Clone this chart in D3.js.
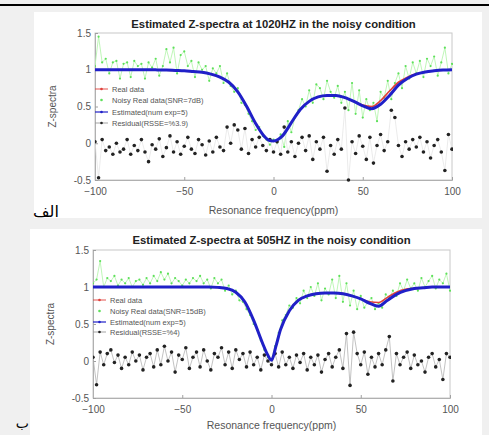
<!DOCTYPE html>
<html><head><meta charset="utf-8">
<script src="https://cdn.jsdelivr.net/npm/d3@7"></script>
<style>
html,body{margin:0;padding:0;background:#f0f0f0;overflow:hidden;}
svg{display:block;}
</style></head><body>
<svg id="c" width="489" height="435"></svg>
<script>
// ---------- DATA ----------
const freqGrid = [
-100,-98,-96,-94,-92,-90,-88,-86,-84,-82,
-80,-78,-76,-74,-72,-70,-68,-66,-64,-62,
-60,-58,-56,-54,-52,-50,-48,-46,-44,-42,
-40,-38,-36,-34,-32,-30,-28,-26,-24,-22,
-20,-18,-16,-14,-12,-10,-8,-6,-4,-2,
0,2,4,6,8,10,12,14,16,18,
20,22,24,26,28,30,32,34,36,38,
40,42,44,46,48,50,52,54,56,58,
60,62,64,66,68,70,72,74,76,78,
80,82,84,86,88,90,92,94,96,98,
100];
const curveFreq = [-100,-95,-90,-85,-80,-75,-70,-65,-60,-55,-50,-45,-40,-35,-30,-25,-20,-15,-10,-5,
  -2.5,0,2.5,
  5,10,15,20,25,30,35,40,45,50,55,60,65,70,75,80,85,90,95,100];

// panel A (1020 Hz)
const realA = [1.0,1.0,1.0,1.0,1.0,1.0,1.0,0.998,0.995,0.99,0.985,0.975,0.965,0.94,0.9,0.83,0.7,0.5,0.27,0.09,
  0.04,0.03,0.05,
  0.1,0.28,0.46,0.57,0.63,0.65,0.65,0.62,0.57,0.52,0.5,0.58,0.71,0.83,0.9,0.945,0.97,0.985,0.995,1.0];
const estA = [1.0,1.0,1.0,1.0,1.0,1.0,1.0,0.998,0.995,0.99,0.985,0.975,0.965,0.94,0.9,0.83,0.7,0.5,0.27,0.09,
  0.04,0.03,0.05,
  0.1,0.28,0.46,0.57,0.63,0.65,0.65,0.62,0.57,0.51,0.47,0.53,0.65,0.79,0.88,0.94,0.97,0.985,0.995,1.0];
const noisyA = [
1.05,1.45,1.10,1.15,0.95,1.10,1.12,0.88,1.08,1.10,
0.90,1.12,1.05,1.08,0.88,1.10,1.03,1.15,0.92,1.05,
1.28,1.10,1.30,0.95,1.20,1.25,1.05,1.12,0.90,1.10,
1.00,1.05,0.85,1.02,0.95,1.05,0.82,0.95,0.78,0.70,
0.75,0.55,0.52,0.40,0.30,0.18,0.22,0.10,0.05,-0.02,
0.05,0.00,0.12,-0.05,0.30,0.15,0.35,0.45,0.60,0.50,
0.72,0.55,0.80,0.75,0.60,0.85,0.70,0.62,0.78,0.55,
0.70,0.45,0.82,0.40,0.72,0.35,0.60,0.45,0.55,0.30,
0.70,0.62,0.85,0.60,0.82,0.95,0.75,1.05,0.88,1.10,
0.95,1.12,0.90,1.15,1.05,1.18,0.92,1.10,1.30,0.95,
1.08];
const residA = [
0.02,-0.47,0.05,-0.10,-0.05,-0.15,0.00,-0.12,-0.08,0.05,
-0.15,-0.03,-0.10,0.05,-0.12,-0.25,-0.02,-0.08,0.06,-0.18,
-0.06,0.10,-0.12,0.02,-0.15,-0.04,0.08,-0.08,-0.14,0.05,
-0.02,-0.16,0.03,-0.12,0.08,-0.05,-0.10,0.22,0.00,0.25,
0.18,-0.08,0.20,-0.14,0.05,-0.05,0.08,-0.03,-0.10,0.05,
-0.12,0.02,-0.15,0.22,-0.12,0.02,-0.18,0.00,0.08,-0.10,
0.10,-0.22,0.02,-0.08,0.08,-0.38,-0.03,-0.15,0.05,-0.08,
0.48,-0.50,0.02,-0.14,0.10,-0.04,-0.22,0.08,-0.27,-0.03,
0.12,-0.10,0.02,0.45,0.35,-0.03,-0.18,0.02,-0.08,0.05,
-0.05,0.08,-0.12,0.02,-0.20,-0.03,0.05,-0.12,-0.37,0.12,
-0.08];

// panel B (505 Hz)
const realB = [1,1,1,1,1,1,1,1,1,1,1,1,1,1,0.995,0.98,0.93,0.8,0.55,0.24,
  0.1,0.01,0.2,
  0.42,0.68,0.82,0.88,0.91,0.92,0.92,0.91,0.88,0.84,0.8,0.79,0.86,0.93,0.97,0.98,0.99,1.0,1.0,1.0];
const estB = [1,1,1,1,1,1,1,1,1,1,1,1,1,1,0.995,0.98,0.93,0.8,0.55,0.24,
  0.1,0.01,0.2,
  0.42,0.68,0.82,0.88,0.91,0.92,0.92,0.91,0.88,0.84,0.78,0.74,0.82,0.9,0.95,0.98,0.99,1.0,1.0,1.0];
const noisyB = [
1.05,1.10,1.35,1.00,1.12,1.08,1.15,1.02,1.10,1.05,
1.12,1.00,1.08,1.10,1.03,1.12,1.05,1.15,1.08,1.20,
1.10,1.18,1.05,1.12,1.08,1.02,1.10,1.05,1.12,1.08,
1.15,1.05,1.10,0.98,1.12,1.05,1.10,0.95,1.02,0.90,
0.95,0.82,0.80,0.70,0.62,0.50,0.42,0.28,0.15,0.05,
0.02,0.20,0.38,0.55,0.62,0.75,0.72,0.85,0.78,0.95,
0.85,1.00,0.88,1.05,0.82,0.98,0.90,1.10,0.85,1.15,
0.80,1.05,0.75,0.95,0.70,0.88,0.72,0.80,0.85,0.70,
0.78,0.72,0.90,0.85,0.95,0.88,1.05,0.95,1.10,0.98,
1.05,0.95,1.12,1.00,1.08,1.15,0.98,1.10,1.05,1.18,
0.95];
const residB = [
0.05,-0.32,0.12,-0.05,0.10,0.15,-0.02,0.08,-0.10,0.05,
-0.05,0.12,0.00,0.08,-0.12,0.05,0.10,-0.08,0.15,-0.05,
0.20,0.00,0.12,-0.15,0.08,0.02,0.18,-0.10,0.05,0.12,
-0.08,0.15,0.00,-0.12,0.10,0.05,0.18,-0.05,0.12,-0.10,
0.15,0.02,0.10,-0.08,0.12,-0.05,0.05,-0.12,0.08,0.00,
-0.05,0.10,-0.08,0.12,-0.05,0.05,-0.10,0.08,-0.02,0.10,
-0.12,0.05,-0.05,0.08,-0.15,0.02,0.10,-0.08,0.05,0.15,
-0.10,0.37,-0.33,0.39,0.10,-0.05,0.12,-0.18,0.05,-0.08,
0.10,-0.05,0.15,0.33,-0.27,0.10,-0.05,0.05,0.12,-0.10,
0.08,-0.05,0.00,-0.15,0.05,0.10,-0.08,0.02,-0.25,0.10,
0.05];

const xTicks = [-100,-50,0,50,100];
const yTicks = [-0.5,0,0.5,1,1.5];
const yTickLabels = ["-0.5","0","0.5","1","1.5"];
const titles = ["Estimated Z-spectra at 1020HZ in the noisy condition",
                "Estimated Z-spectra at 505HZ in the noisy condition"];
const legendA = ["Real data","Noisy Real data(SNR=7dB)","Estimated(num exp=5)","Residual(RSSE=%3.9)"];
const legendB = ["Real data","Noisy Real data(SNR=15dB)","Estimated(num exp=5)","Residual(RSSE=%4)"];
const panelLetters = ["الف","ب"];
const xLabel = "Resonance frequency(ppm)";
const yLabel = "Z-spectra";

// ---------- DRAW ----------
const svg = d3.select("#c");
const FONT = "Liberation Sans, Arial, sans-serif";

svg.append("rect").attr("x",0).attr("y",4).attr("width",489).attr("height",2).attr("fill","#000");
svg.append("rect").attr("x",34).attr("y",12).attr("width",448).attr("height",206).attr("fill","#fff");
svg.append("rect").attr("x",30).attr("y",229).attr("width",452).attr("height",210).attr("fill","#fff");

svg.append("text").attr("x",33).attr("y",217).attr("text-anchor","end")
  .attr("font-family","DejaVu Sans").attr("font-size",16).attr("fill","#000").attr("direction","rtl")
  .text(panelLetters[0]);
svg.append("text").attr("x",29).attr("y",428).attr("text-anchor","end")
  .attr("font-family","DejaVu Sans").attr("font-size",14).attr("fill","#000")
  .text(panelLetters[1]);

const panels = [
  {x0:95,x1:452,yT:33,yB:180,title:titles[0],titleY:28,xlY:214,ylX:56,leg:legendA,legY:[89,100,112,123],legX:95,
   real:realA,est:estA,noisy:noisyA,resid:residA,residLine:"#e2e2e2"},
  {x0:93,x1:450,yT:250,yB:398,title:titles[1],titleY:244,xlY:429,ylX:54,leg:legendB,legY:[300,311,322,332],legX:93,
   real:realB,est:estB,noisy:noisyB,resid:residB,residLine:"#a8a8a8"}
];

panels.forEach(p => {
  const x = d3.scaleLinear().domain([-100,100]).range([p.x0,p.x1]);
  const y = d3.scaleLinear().domain([-0.5,1.5]).range([p.yB,p.yT]);
  const g = svg.append("g");

  g.append("rect").attr("x",p.x0).attr("y",p.yT).attr("width",p.x1-p.x0).attr("height",p.yB-p.yT)
    .attr("fill","none").attr("stroke","#c8c8c8").attr("stroke-width",1);

  const xa = g.append("g").attr("transform",`translate(0,${p.yB})`)
    .call(d3.axisBottom(x).tickValues(xTicks).tickSize(-3).tickPadding(8).tickFormat(d3.format("d")));
  const ya = g.append("g").attr("transform",`translate(${p.x0},0)`)
    .call(d3.axisLeft(y).tickValues(yTicks).tickSize(-3).tickPadding(4).tickFormat((d,i)=>yTickLabels[i]));
  [xa,ya].forEach(a=>{
    a.select(".domain").attr("stroke","#b0b0b0");
    a.selectAll(".tick line").attr("stroke","#a0a0a0");
    a.selectAll(".tick text").attr("font-family",FONT).attr("font-size",10).attr("fill","#555");
  });
  ya.selectAll(".tick text").attr("x",-4);

  const clip = "clip"+p.yT;
  svg.append("clipPath").attr("id",clip).append("rect")
    .attr("x",p.x0).attr("y",p.yT-4).attr("width",p.x1-p.x0+1).attr("height",p.yB-p.yT+8);
  const plot = g.append("g").attr("clip-path",`url(#${clip})`);

  const pts = (arr, xs) => arr.map((v,i)=>[xs[i],v]);
  const lineStraight = d3.line().x(d=>x(d[0])).y(d=>y(d[1]));
  const lineSmooth = d3.line().x(d=>x(d[0])).y(d=>y(d[1])).curve(d3.curveMonotoneX);

  const nz = pts(p.noisy, freqGrid);
  plot.append("path").attr("d",lineStraight(nz)).attr("fill","none")
    .attr("stroke","#b8f5b0").attr("stroke-width",0.9);
  plot.selectAll(".nz").data(nz).enter().append("circle")
    .attr("cx",d=>x(d[0])).attr("cy",d=>y(d[1])).attr("r",1.1).attr("fill","#5ee05a");

  const rs = pts(p.resid, freqGrid);
  plot.append("path").attr("d",lineStraight(rs)).attr("fill","none")
    .attr("stroke",p.residLine).attr("stroke-width",0.7);
  plot.selectAll(".rs").data(rs).enter().append("circle")
    .attr("cx",d=>x(d[0])).attr("cy",d=>y(d[1])).attr("r",1.8).attr("fill","#222");

  plot.append("path").attr("d",lineSmooth(pts(p.real,curveFreq))).attr("fill","none")
    .attr("stroke","#e0403a").attr("stroke-width",1.6);
  plot.append("path").attr("d",lineSmooth(pts(p.est,curveFreq))).attr("fill","none")
    .attr("stroke","#2020c8").attr("stroke-width",3);

  g.append("text").attr("x",(p.x0+p.x1)/2).attr("y",p.titleY).attr("text-anchor","middle")
    .attr("font-family",FONT).attr("font-weight","bold").attr("font-size",11.3).attr("fill","#222")
    .text(p.title);
  g.append("text").attr("x",(p.x0+p.x1)/2).attr("y",p.xlY).attr("text-anchor","middle")
    .attr("font-family",FONT).attr("font-size",10.5).attr("fill","#555").text(xLabel);
  g.append("text").attr("transform",`translate(${p.ylX},${(p.yT+p.yB)/2}) rotate(-90)`)
    .attr("text-anchor","middle").attr("font-family",FONT).attr("font-size",10).attr("fill","#555").text(yLabel);

  const legColors = ["#e0403a","#5ee05a","#2020c8","#222"];
  p.leg.forEach((t,i)=>{
    const ly = p.legY[i];
    const lg = g.append("g");
    if (i!==1) lg.append("line").attr("x1",p.legX).attr("x2",p.legX+13).attr("y1",ly).attr("y2",ly)
      .attr("stroke",i===3?"#999":legColors[i]).attr("stroke-width",i===2?1.2:0.9);
    lg.append("circle").attr("cx",p.legX+6.5).attr("cy",ly).attr("r",1.3).attr("fill",legColors[i]);
    lg.append("text").attr("x",p.legX+17).attr("y",ly).attr("dy","0.35em")
      .attr("font-family",FONT).attr("font-size",7.5).attr("fill","#555").text(t);
  });
});
</script>
</body></html>
